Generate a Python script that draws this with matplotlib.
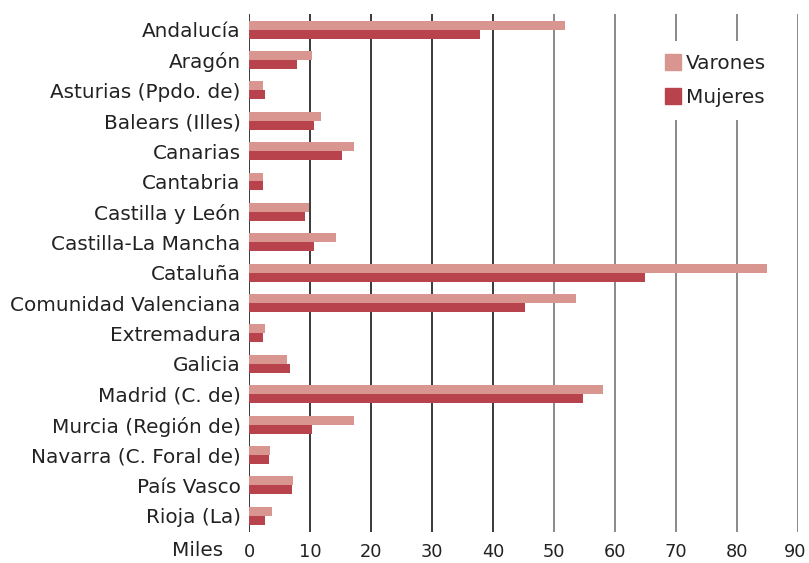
import numpy as np
import matplotlib.pyplot as plt
from matplotlib.patches import Patch
from matplotlib.transforms import ScaledTranslation

# datos (miles de personas)
regiones = ["Andalucía", "Aragón", "Asturias (Ppdo. de)", "Balears (Illes)", "Canarias",
            "Cantabria", "Castilla y León", "Castilla-La Mancha", "Cataluña",
            "Comunidad Valenciana", "Extremadura", "Galicia", "Madrid (C. de)",
            "Murcia (Región de)", "Navarra (C. Foral de)", "País Vasco", "Rioja (La)"]
varones = [51.8, 10.3, 2.3, 11.8, 17.2, 2.3, 9.8, 14.2, 85.0,
           53.6, 2.7, 6.2, 58.1, 17.2, 3.4, 7.2, 3.7]
mujeres = [37.8, 7.8, 2.6, 10.6, 15.2, 2.3, 9.1, 10.6, 64.9,
           45.3, 2.3, 6.7, 54.7, 10.3, 3.2, 7.0, 2.6]
ticks = [0, 10, 20, 30, 40, 50, 60, 70, 80, 90]

c_var = "#d9958f"
c_muj = "#b9434d"
c_txt = "#222222"

plt.rcParams["font.family"] = ["DejaVu Sans"]
fs = 14.4
fs_x = 12.8

fig = plt.figure(figsize=(8.09, 5.63), dpi=100)
ax = fig.add_axes([249 / 809, 1 - 532 / 563, (798 - 249) / 809, (532 - 14) / 563])

y = np.arange(len(regiones))
h = 0.296

# lineas verticales
for t in ticks:
    col = "#2a2a2a" if t < 50 else "#808080"
    ax.axvline(t, color=col, lw=1.3, zorder=1)

ax.barh(y - h / 2, varones, height=h, color=c_var, zorder=2)
ax.barh(y + h / 2, mujeres, height=h, color=c_muj, zorder=2)

ax.set_xlim(0, 90)
ax.set_ylim(len(regiones) - 0.47, -0.51)
ax.set_yticks(y)
ax.set_yticklabels(regiones, fontsize=fs, color=c_txt)
ax.set_xticks(ticks)
ax.set_xticklabels([str(t) for t in ticks], fontsize=fs_x, color=c_txt)
ax.tick_params(axis="both", length=0)
ax.tick_params(axis="y", pad=6)
ax.tick_params(axis="x", pad=8)
for s in ax.spines.values():
    s.set_visible(False)

# el 90 queda pegado al borde, se mueve un poco
last = ax.get_xticklabels()[-1]
last.set_transform(last.get_transform() + ScaledTranslation(-3 / 100, 0, fig.dpi_scale_trans))

fig.text(223 / 809, 1 - 551 / 563, "Miles", ha="right", va="center", fontsize=fs, color=c_txt)

handles = [Patch(color=c_var), Patch(color=c_muj)]
leg = fig.legend(handles, ["Varones", "Mujeres"], loc="upper right",
                 bbox_to_anchor=(779 / 809, 1 - 41 / 563), fontsize=fs,
                 frameon=True, facecolor="white", edgecolor="none", framealpha=1,
                 handlelength=0.8, handleheight=0.8, handletextpad=0.25,
                 labelspacing=0.75, borderpad=0.65, borderaxespad=0, fancybox=False)
for t in leg.get_texts():
    t.set_color(c_txt)

fig.savefig("out.png", dpi=100)
